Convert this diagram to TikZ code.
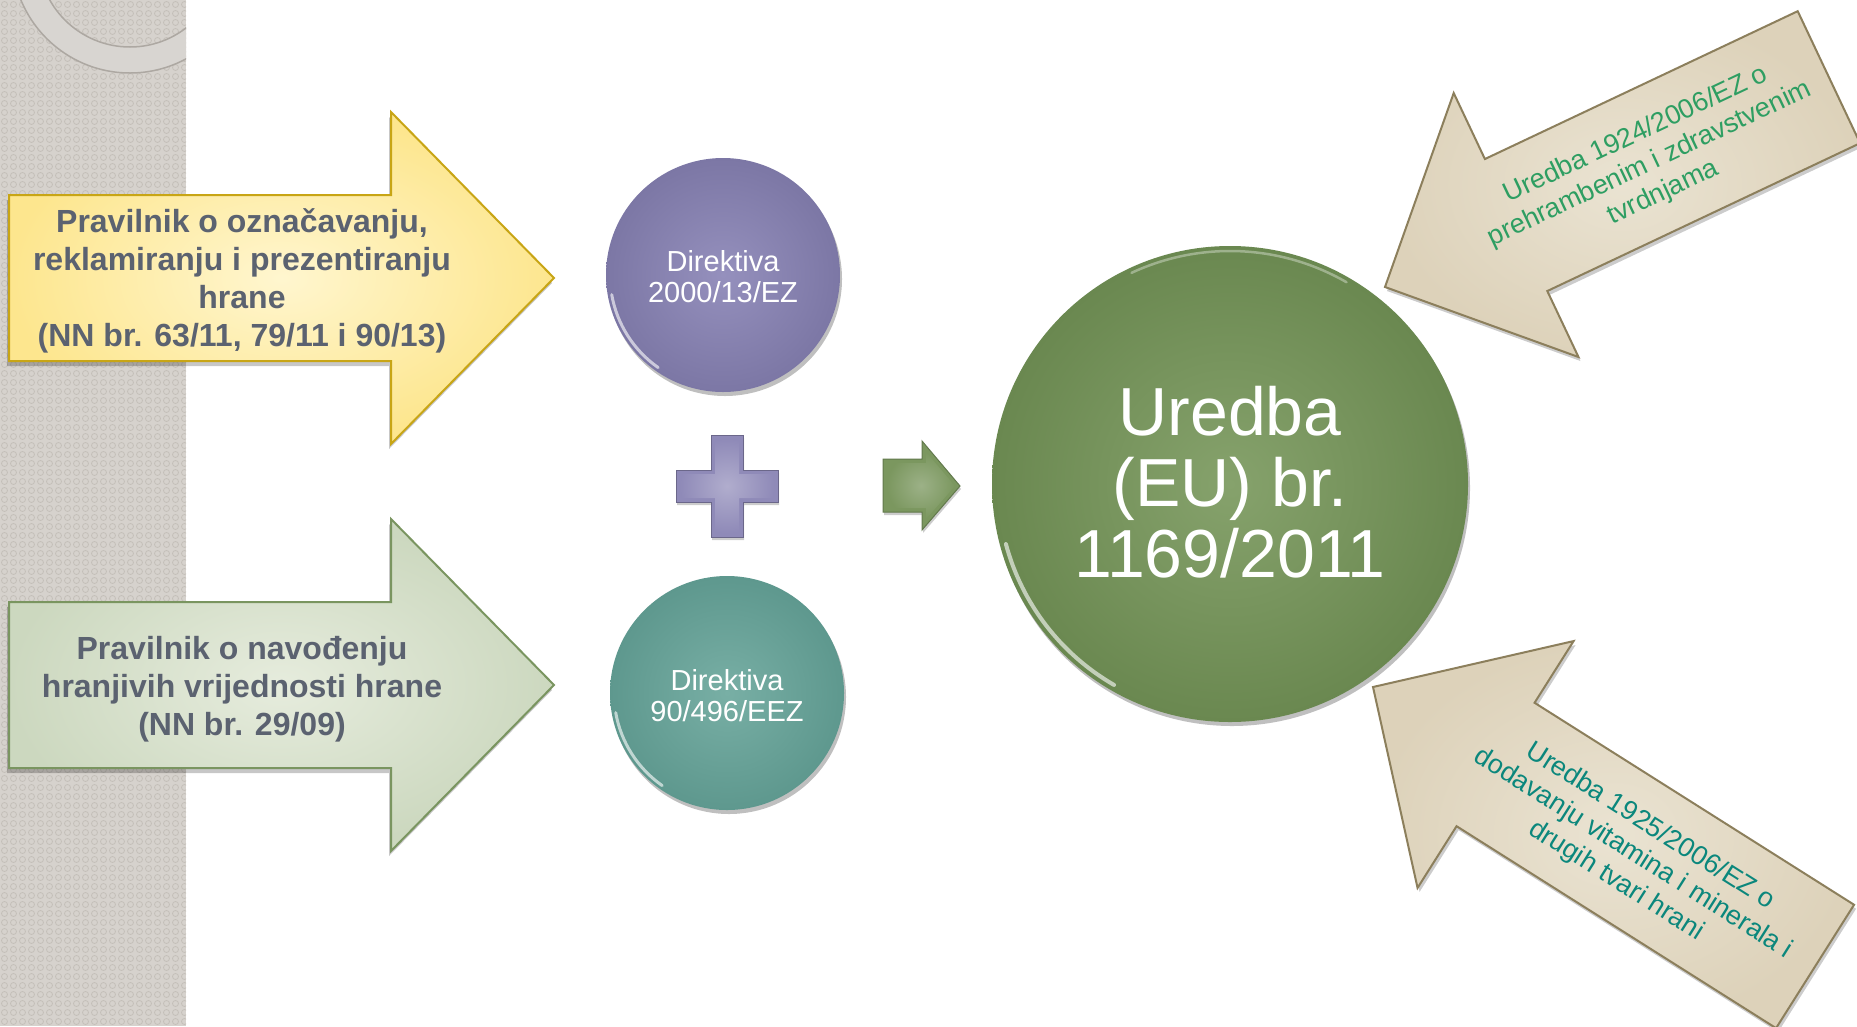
\documentclass[tikz,border=0pt]{standalone}
\usepackage{fontspec}
\setmainfont{Liberation Sans}
\usetikzlibrary{shadows,patterns}
\definecolor{stripc}{HTML}{D6D2CD}
\definecolor{stripdot}{HTML}{C4BFB9}
\definecolor{ringc}{HTML}{D8D5D1}
\definecolor{ringedge}{HTML}{ADA8A2}
\definecolor{yelin}{HTML}{FFF6CF}
\definecolor{yelout}{HTML}{FDE68E}
\definecolor{yelborder}{HTML}{C8A515}
\definecolor{grnin}{HTML}{E6ECDD}
\definecolor{grnout}{HTML}{CCD8BF}
\definecolor{grnborder}{HTML}{7A9560}
\definecolor{txtgray}{HTML}{5B6270}
\definecolor{purin}{HTML}{9590BD}
\definecolor{purout}{HTML}{7C77A5}
\definecolor{tealin}{HTML}{78AFA5}
\definecolor{tealout}{HTML}{5E988E}
\definecolor{bigin}{HTML}{86A26C}
\definecolor{bigout}{HTML}{6A8850}
\definecolor{plusc}{HTML}{8F8AB8}
\definecolor{smallarr}{HTML}{7B975F}
\definecolor{tanin}{HTML}{EAE3D2}
\definecolor{tanout}{HTML}{DDD2BA}
\definecolor{tanborder}{HTML}{8C7F5C}
\definecolor{tangreen}{HTML}{2E9E62}
\definecolor{tanteal}{HTML}{0B877C}
\pgfdeclarepatternformonly{myrings}{\pgfpoint{-1pt}{-1pt}}{\pgfpoint{10pt}{10pt}}{\pgfpoint{9pt}{9pt}}{%
  \pgfsetlinewidth{0.8pt}\pgfpathcircle{\pgfpoint{4.5pt}{4.5pt}}{3pt}\pgfusepath{stroke}}
\tikzset{
  softshadow/.style={drop shadow={shadow xshift=-2pt, shadow yshift=-5pt, opacity=.22, fill=black}},
  yelarrow/.style={softshadow, draw=yelborder, line width=2pt, line join=miter, inner color=yelin, outer color=yelout},
  grnarrow/.style={softshadow, draw=grnborder, line width=2pt, line join=miter, inner color=grnin, outer color=grnout},
  tanarrow/.style={drop shadow={shadow xshift=2pt, shadow yshift=-4pt, opacity=.2, fill=black}, draw=tanborder, line width=2pt, line join=miter, inner color=tanin, outer color=tanout},
  lefttext/.style={align=center, text=txtgray, font=\fontsize{32}{38}\selectfont\bfseries, inner sep=0pt},
  dirtext/.style={align=center, text=white, font=\fontsize{29}{31}\selectfont, inner sep=0pt},
  disc/.style={circle, inner sep=0pt, drop shadow={shadow xshift=2pt, shadow yshift=-4pt, opacity=.25, fill=black}},
  glint/.style={white, opacity=.6, line width=3pt, line cap=round},
  tantext/.style={align=center, font=\fontsize{27}{32}\selectfont, inner sep=0pt, transform shape},
}
\begin{document}
\begin{tikzpicture}[x=1pt,y=-1pt]
\useasboundingbox (0,0) rectangle (1857,1026);
\fill[white] (0,0) rectangle (1857,1026);
% left textured strip
\fill[stripc] (0,0) rectangle (186,1026);
\fill[pattern=myrings, pattern color=stripdot] (0,0) rectangle (186,1026);
\begin{scope}
  \clip (0,0) rectangle (186,1026);
  \fill[ringc, draw=ringedge, line width=1.5pt, even odd rule] (130,-45) circle[radius=118] (130,-45) circle[radius=92];
\end{scope}

% left arrows
\path[yelarrow] (9,195) -- (391,195) -- (391,112) -- (554,278) -- (391,444) -- (391,361) -- (9,361) -- cycle;
\node[lefttext] (p1) at (242,281) {Pravilnik o označavanju,\\reklamiranju i prezentiranju\\hrane\\(NN br. 63/11, 79/11 i 90/13)};

\path[grnarrow] (9,602) -- (391,602) -- (391,519) -- (554,685) -- (391,851) -- (391,768) -- (9,768) -- cycle;
\node[lefttext] (p2) at (242,689) {Pravilnik o navođenju\\hranjivih vrijednosti hrane\\(NN br. 29/09)};

% directive discs
\node[disc, minimum size=234pt, inner color=purin, outer color=purout] (d1) at (723,275) {};
\draw[glint] (d1.center) ++(125:113) arc[start angle=125, end angle=170, radius=113];
\node[dirtext] (d1t) at (723,277) {Direktiva\\2000/13/EZ};

\node[disc, minimum size=234pt, inner color=tealin, outer color=tealout] (d2) at (727,693) {};
\draw[glint] (d2.center) ++(125:113) arc[start angle=125, end angle=170, radius=113];
\node[dirtext] (d2t) at (727,696) {Direktiva\\90/496/EEZ};

% plus sign
\path[fill=plusc, draw=plusc!75!black, line width=1pt, drop shadow={shadow xshift=1pt, shadow yshift=-3pt, opacity=.2, fill=black}]
  (711,435) -- (743,435) -- (743,470) -- (778,470) -- (778,502) -- (743,502) -- (743,537) -- (711,537)
  -- (711,502) -- (676,502) -- (676,470) -- (711,470) -- cycle;
\path[inner color=plusc!70!white, outer color=plusc]
  (715,439) -- (739,439) -- (739,474) -- (774,474) -- (774,498) -- (739,498) -- (739,533) -- (715,533)
  -- (715,498) -- (680,498) -- (680,474) -- (715,474) -- cycle;

% small arrow
\path[fill=smallarr, draw=smallarr!80!black, line width=1pt, drop shadow={shadow xshift=1pt, shadow yshift=-3pt, opacity=.2, fill=black}]
  (883,459) -- (922,459) -- (922,441) -- (960,486) -- (922,530) -- (922,512) -- (883,512) -- cycle;
\path[inner color=smallarr!75!white, outer color=smallarr]
  (887,463) -- (926,463) -- (926,452) -- (955,486) -- (926,519) -- (926,508) -- (887,508) -- cycle;

% main disc
\node[disc, minimum size=476pt, inner color=bigin, outer color=bigout] (u) at (1230,484) {};
\draw[glint, line width=4pt] (u.center) ++(120:232) arc[start angle=120, end angle=165, radius=232];
\draw[white, opacity=.35, line width=2.5pt, line cap=round] (u.center) ++(245:233) arc[start angle=245, end angle=300, radius=233];
\node[align=center, text=white, font=\fontsize{68}{71}\selectfont, inner sep=0pt] (ut) at (1230,482) {Uredba\\(EU) br.\\1169/2011};

% tan arrow, top right
\begin{scope}[shift={(1385,287)}, rotate=25.3]
  \path[tanarrow] (0,0) -- (145,-146) -- (145,-73) -- (491,-73) -- (491,73) -- (145,73) -- (145,146) -- cycle;
  \node[tantext, text=tangreen] (r1) at (292,2) {Uredba 1924/2006/EZ o\\prehrambenim i zdravstvenim\\tvrdnjama};
\end{scope}

% tan arrow, bottom right
\begin{scope}[shift={(1373,687)}, rotate=-32.3]
  \path[tanarrow] (0,0) -- (145,-146) -- (145,-73) -- (523,-73) -- (523,73) -- (145,73) -- (145,146) -- cycle;
  \node[tantext, text=tanteal] (r2) at (309,2) {Uredba 1925/2006/EZ o\\dodavanju vitamina i minerala i\\drugih tvari hrani};
\end{scope}
\end{tikzpicture}
\end{document}
